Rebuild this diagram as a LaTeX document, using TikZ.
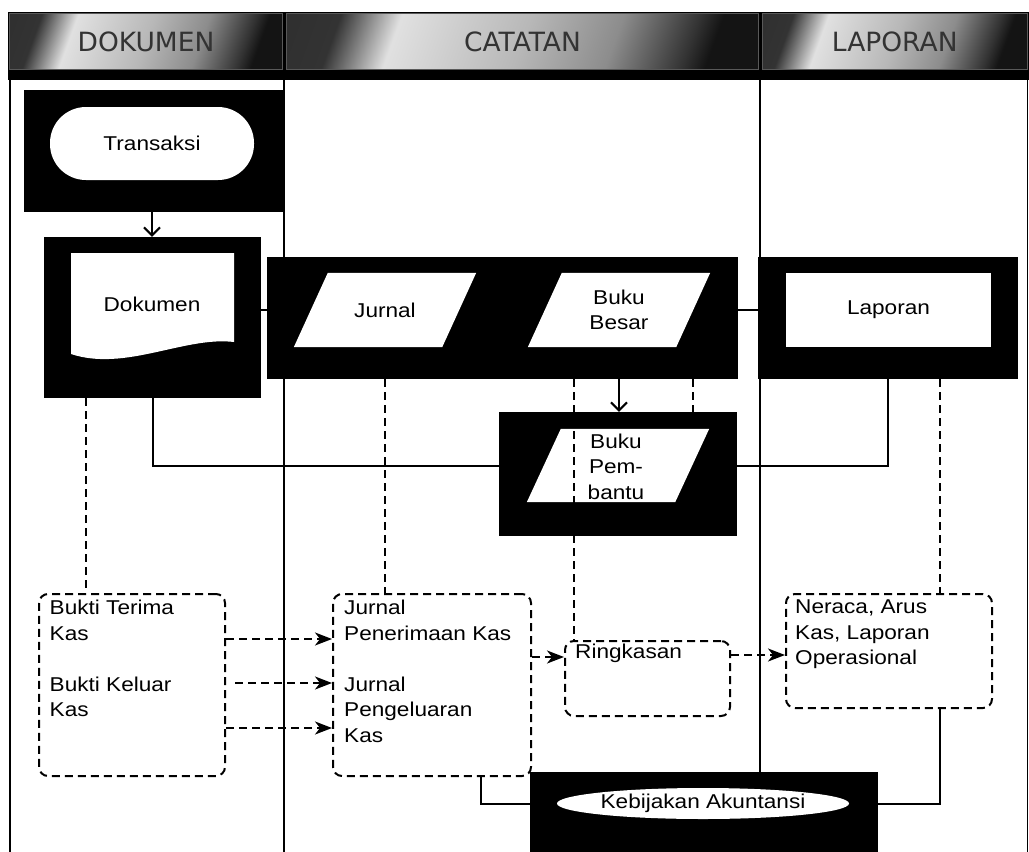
\documentclass[tikz,border=0pt]{standalone}
\usepackage{fontspec}
\setmainfont{Liberation Sans}[FakeStretch=1.13]
\newfontfamily\headfont{DejaVu Sans}
\usetikzlibrary{positioning,shapes.geometric,arrows.meta}

\newcommand{\bodysize}{\fontsize{20pt}{25.5pt}\selectfont}
% white parallelogram filling the box of a node
\newcommand{\paral}[1]{\fill[white] ([xshift=34pt]#1.north west) -- (#1.north east) -- ([xshift=-34pt]#1.south east) -- (#1.south west) -- cycle;}
\pgfdeclarehorizontalshading{metal}{100bp}{color(0bp)=(black!85); color(25bp)=(black!80); color(33bp)=(black!12); color(50bp)=(black!28); color(62bp)=(black!45); color(72bp)=(black!80); color(75bp)=(black!92); color(100bp)=(black!92)}

\tikzset{
  lane/.style={line width=1.5pt},
  headcell/.style={shading=metal, shading angle=-20, draw=black!65, line width=1pt, inner sep=0pt,
    font=\headfont\fontsize{26.5pt}{30pt}\selectfont, text=black!80},
  grp/.style={fill=black, inner sep=0pt},
  whitebox/.style={fill=white, inner sep=0pt, font=\bodysize},
  parabox/.style={rectangle, inner sep=0pt},
  lbl/.style={inner sep=0pt, font=\bodysize, align=center},
  note/.style={rectangle, rounded corners=9pt, draw, line width=2pt, dash pattern=on 8pt off 5pt, inner sep=0pt},
  ntxt/.style={inner sep=0pt, font=\bodysize, align=left, anchor=north west},
  link/.style={line width=2pt},
  arr/.style={link, -{Straight Barb[length=8pt,width=16pt]}},
  dlink/.style={line width=2pt, dash pattern=on 8pt off 5pt},
  darr/.style={dlink, -{Stealth[length=17pt,width=13pt,inset=5pt]}},
}

\begin{document}
\begin{tikzpicture}[x=1pt, y=-1pt]
  \useasboundingbox (0,0) rectangle (1029,852);
  %% Header
  \fill[black] (8,11.5) rectangle (1029,79.5);
  \node[headcell, minimum width=273pt, minimum height=56pt] (hdok) at (146,41.5) {DOKUMEN};
  \node[headcell, minimum width=472pt, minimum height=56pt] (hcat) at (522.5,41.5) {CATATAN};
  \node[headcell, minimum width=265.5pt, minimum height=56pt] (hlap) at (894.75,41.5) {LAPORAN};
  %% Lanes
  \foreach \x in {10,284,760,1027.5}
    \draw[lane] (\x,79) -- (\x,852);
  %% Dokumen lane
  \node[grp, minimum width=259pt, minimum height=122pt] (trgrp) at (153.5,151) {};
  \node[whitebox, rounded corners=36pt, minimum width=204pt, minimum height=73pt] (tr) at (152,143.5) {Transaksi};
  \node[grp, minimum width=217pt, minimum height=161pt] (dokgrp) at (152.5,317.5) {};
  \fill[white] (71,253) -- (234,253) -- (234,342) .. controls (185,336) and (125,372) .. (71,354) -- cycle;
  \node[lbl] (dok) at (152,304) {Dokumen};
  %% Catatan lane
  \node[grp, minimum width=471pt, minimum height=122pt] (catgrp) at (502.5,318) {};
  \node[parabox, minimum width=182pt, minimum height=74pt] (jur) at (385,310) {};
  \paral{jur}
  \node[lbl] (jurt) at (jur) {Jurnal};
  \node[parabox, minimum width=182pt, minimum height=74pt] (bes) at (619,310) {};
  \paral{bes}
  \node[lbl] (best) at (bes) {Buku\\Besar};
  \node[grp, minimum width=238pt, minimum height=124pt] (pemgrp) at (618,474) {};
  \node[parabox, minimum width=182pt, minimum height=73pt] (pem) at (618,465.5) {};
  \paral{pem}
  \node[lbl] (pemt) at (616,466.5) {Buku\\Pem-\\bantu};
  %% Laporan lane
  \node[grp, minimum width=260pt, minimum height=122pt] (lapgrp) at (888,318) {};
  \node[whitebox, minimum width=205pt, minimum height=74pt] (lap) at (888.5,310) {Laporan};
  %% Kebijakan
  \node[grp, minimum width=348pt, minimum height=80pt] (kebgrp) at (704,812) {};
  \node[whitebox, ellipse, minimum width=292pt, minimum height=31pt] (keb) at (703,803.5) {Kebijakan Akuntansi};
  %% Notes
  \node[note, minimum width=186pt, minimum height=182pt] (bkbox) at (132,685) {};
  \node[ntxt] (bk) at ([xshift=11.5pt,yshift=-7pt]bkbox.north west) {Bukti Terima\\Kas\\[25.5pt]Bukti Keluar\\Kas};
  \node[note, minimum width=198pt, minimum height=182pt] (jbox) at (432,685) {};
  \node[ntxt] (jk) at ([xshift=12pt,yshift=-7pt]jbox.north west) {Jurnal\\Penerimaan Kas\\[25.5pt]Jurnal\\Pengeluaran\\Kas};
  \node[note, minimum width=165pt, minimum height=75pt] (rbox) at (647.5,678.5) {};
  \node[ntxt] (rk) at ([xshift=11pt,yshift=-4pt]rbox.north west) {Ringkasan};
  \node[note, minimum width=206pt, minimum height=114pt] (nbox) at (889,651) {};
  \node[ntxt] (nk) at ([xshift=10pt,yshift=-7pt]nbox.north west) {Neraca, Arus\\Kas, Laporan\\Operasional};
  %% Free ends
  \coordinate (dokout) at ([xshift=-66.5pt]dokgrp.south);
  \coordinate (besout) at (574,379);
  \coordinate (besout2) at (693,379);
  \coordinate (lapout) at ([xshift=52pt]lapgrp.south);
  \coordinate (jboxout) at ([xshift=49pt]jbox.south);
  \coordinate (nboxout) at ([xshift=51pt]nbox.south);
  \coordinate (rin) at ([yshift=-17pt]rbox.north west);
  \coordinate (nin) at ([yshift=-62pt]nbox.north west);
  %% Solid links
  \draw[arr] (trgrp.south -| dok) -- (dokgrp.north -| dok);
  \draw[link] (dokgrp.east |- jur) -- (catgrp.west |- jur);
  \draw[link] (catgrp.east |- lap) -- (lapgrp.west |- lap);
  \draw[arr] (catgrp.south -| bes) -- (pemgrp.north -| bes);
  \draw[link] (dokgrp.south) |- (pemgrp.west |- pem);
  \draw[link] (pemgrp.east |- pem) -| (lapgrp.south);
  \draw[link] (jboxout) |- (kebgrp.west |- keb);
  \draw[link] (nboxout) |- (kebgrp.east |- keb);
  %% Dashed links
  \draw[dlink] (dokout) -- (dokout |- bkbox.north);
  \draw[dlink] (catgrp.south -| jur) -- (jbox.north -| jur);
  \draw[dlink] (besout) -- (besout |- rbox.north);
  \draw[dlink] (besout2) -- (besout2 |- pemgrp.north);
  \draw[dlink] (lapout) -- (lapout |- nbox.north);
  \draw[darr] ([yshift=-46pt]bkbox.north east) -- ([yshift=-46pt]jbox.north west);
  \draw[darr] ([xshift=9pt,yshift=-90pt]bkbox.north east) -- ([yshift=-90pt]jbox.north west);
  \draw[darr] ([yshift=-135pt]bkbox.north east) -- ([yshift=-135pt]jbox.north west);
  \draw[darr] (jbox.east |- rin) -- (rin);
  \draw[darr] (rbox.east |- nin) -- (nin);
\end{tikzpicture}
\end{document}
